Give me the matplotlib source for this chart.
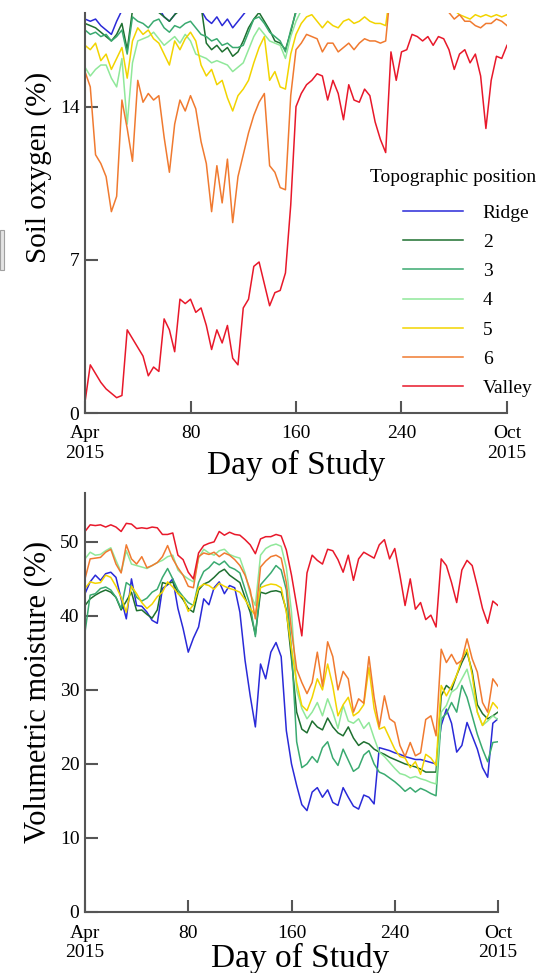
import numpy as np
import matplotlib
matplotlib.use("Agg")
import matplotlib.pyplot as plt
from matplotlib.patches import Rectangle

plt.rcParams['font.family'] = ['Liberation Serif', 'DejaVu Serif']

# day of study, every 4 days
days = np.arange(0, 321, 4)

names = ['Ridge', '2', '3', '4', '5', '6', 'Valley']
colors = ['#2a2ad8', '#1e7030', '#3aaa70', '#90e89a', '#f2d400', '#f07a30', '#e8182a']

# soil oxygen (%) - values above ~18.3 are cut off in the figure
o2_ridge = [18.0, 17.9, 18.0, 17.7, 17.5, 17.3, 17.9, 18.4, 18.5, 18.8, 18.9, 18.7, 18.8, 18.6, 18.5,
            18.1, 17.9, 18.2, 18.6, 18.5, 18.7, 18.6, 18.4, 18.0, 17.8, 18.1, 17.7, 18.0, 17.6, 17.9,
            18.2, 18.5, 18.8, 19.0, 18.9, 18.7, 18.8, 18.9, 18.8, 19.0, 19.2, 19.3, 19.3, 19.2, 19.3,
            19.2, 19.3, 19.2, 19.3, 19.2, 19.3, 19.3, 19.2, 19.3, 19.2, 19.2, 19.3, 19.3, 19.5, 19.5,
            19.5, 19.6, 19.5, 19.5, 19.4, 19.5, 19.4, 19.5, 19.4, 19.3, 19.2, 19.2, 19.3, 19.2, 19.1,
            19.2, 19.0, 19.1, 19.2, 19.1, 19.2]
o2_2 = [17.8, 17.7, 17.6, 17.4, 17.2, 17.0, 17.3, 17.8, 16.6, 18.4, 18.6, 18.5, 18.6, 18.4, 18.3,
        18.1, 17.9, 18.2, 18.4, 18.5, 18.6, 18.5, 18.6, 16.9, 16.6, 16.8, 16.5, 16.7, 16.3, 16.5,
        17.0, 17.6, 18.0, 18.3, 17.9, 17.5, 17.0, 16.9, 16.6, 17.4, 18.4, 19.0, 19.1, 19.0, 19.1,
        19.0, 19.1, 19.0, 19.1, 19.0, 19.1, 19.1, 19.0, 19.1, 19.0, 19.0, 19.1, 19.1, 19.4, 19.4,
        19.4, 19.5, 19.4, 19.4, 19.3, 19.4, 19.3, 19.4, 19.3, 19.2, 19.0, 19.0, 18.9, 19.0, 18.9,
        19.0, 18.8, 18.9, 19.0, 18.9, 19.0]
o2_3 = [17.5, 17.3, 17.4, 17.2, 17.3, 17.0, 17.2, 17.5, 16.4, 18.1, 17.9, 17.8, 17.6, 17.9, 18.0,
        17.6, 17.4, 17.7, 17.6, 17.8, 17.9, 17.6, 17.3, 17.2, 17.0, 17.1, 16.8, 16.9, 16.7, 16.7,
        16.8, 17.4, 18.0, 18.1, 17.8, 17.4, 17.2, 17.0, 16.5, 17.5, 18.3, 18.8, 18.9, 18.8, 18.9,
        18.8, 18.9, 18.8, 18.9, 18.8, 18.9, 18.9, 18.8, 18.9, 18.8, 18.8, 18.9, 18.9, 19.2, 19.2,
        19.2, 19.3, 19.2, 19.2, 19.1, 19.2, 19.1, 19.2, 19.1, 19.0, 18.8, 18.7, 18.6, 18.7, 18.6,
        18.7, 18.6, 18.7, 18.8, 18.7, 18.8]
o2_4 = [15.8, 15.4, 15.7, 15.9, 15.9, 15.3, 14.9, 16.2, 13.2, 16.0, 17.0, 17.1, 17.2, 17.4, 17.1,
        16.8, 17.0, 17.2, 16.9, 17.3, 17.0, 16.4, 16.3, 16.2, 16.0, 16.1, 16.0, 15.9, 15.6, 15.8,
        16.0, 16.6, 17.2, 17.6, 17.3, 17.0, 16.9, 16.8, 16.2, 17.2, 17.9, 18.4, 18.8, 18.7, 18.8,
        18.7, 18.8, 18.7, 18.8, 18.7, 18.8, 18.8, 18.7, 18.8, 18.7, 18.7, 18.8, 18.8, 19.1, 19.1,
        19.1, 19.2, 19.1, 19.1, 19.0, 19.1, 19.0, 19.1, 19.0, 18.9, 18.7, 18.6, 18.5, 18.6, 18.5,
        18.6, 18.5, 18.6, 18.7, 18.6, 18.7]
o2_5 = [16.8, 16.6, 16.9, 16.1, 16.4, 15.7, 16.2, 16.7, 15.3, 17.0, 17.6, 17.3, 17.5, 17.1, 16.9,
        16.4, 15.9, 17.0, 16.6, 17.1, 17.4, 17.0, 15.9, 15.4, 15.7, 15.0, 15.2, 14.4, 13.8, 14.5,
        14.8, 15.2, 16.0, 16.7, 17.2, 15.2, 15.6, 14.9, 14.8, 16.4, 17.3, 17.8, 18.1, 18.2, 17.9,
        17.6, 17.9, 17.7, 17.6, 17.9, 18.0, 17.8, 17.9, 18.1, 17.9, 17.8, 17.8, 17.7, 19.5, 19.5,
        19.4, 19.5, 19.4, 19.4, 19.3, 19.2, 19.1, 19.0, 18.8, 18.5, 18.4, 18.2, 18.1, 18.0, 18.2,
        18.1, 18.2, 18.1, 18.2, 18.1, 18.2]
o2_6 = [15.6, 14.9, 11.8, 11.4, 10.8, 9.2, 9.9, 14.3, 13.0, 11.5, 15.2, 14.2, 14.6, 14.3, 14.5,
        12.6, 11.0, 13.2, 14.3, 13.8, 14.5, 13.9, 12.4, 11.4, 9.2, 11.3, 9.6, 11.6, 8.7, 10.8,
        11.8, 12.8, 13.6, 14.2, 14.6, 11.3, 11.0, 10.3, 10.2, 14.5, 16.6, 16.9, 17.3, 17.2, 17.1,
        16.5, 16.9, 16.9, 16.5, 16.7, 16.9, 16.6, 16.9, 17.1, 17.0, 17.0, 16.9, 17.0, 19.5, 19.5,
        19.4, 19.4, 19.3, 19.2, 19.1, 19.0, 18.8, 18.6, 18.4, 18.3, 18.0, 18.2, 17.9, 17.9, 17.7,
        17.6, 17.8, 17.8, 18.0, 17.9, 17.7]
o2_valley = [0.5, 2.2, 1.8, 1.4, 1.1, 0.9, 0.7, 0.8, 3.8, 3.4, 3.0, 2.6, 1.7, 2.1, 1.9,
             4.3, 3.8, 2.8, 5.2, 5.0, 5.2, 4.6, 4.8, 4.0, 2.9, 3.8, 3.2, 4.0, 2.5, 2.2,
             4.8, 5.2, 6.7, 6.9, 5.9, 4.9, 5.5, 5.6, 6.4, 9.5, 14.0, 14.6, 15.0, 15.2, 15.5,
             15.4, 14.3, 15.2, 14.6, 13.4, 15.0, 14.3, 14.2, 14.8, 14.5, 13.3, 12.5, 11.9, 16.5, 15.2,
             16.5, 16.6, 17.3, 17.2, 17.0, 17.2, 16.8, 17.2, 17.1, 16.6, 15.7, 16.4, 16.6, 16.0, 16.4,
             15.4, 13.0, 15.2, 16.3, 16.2, 16.8]

# volumetric moisture (%)
vm_ridge = [43.0, 44.6, 45.5, 44.8, 45.7, 45.9, 45.2, 42.3, 39.6, 45.0, 41.4, 41.3, 40.5, 39.4, 39.0,
            43.7, 44.2, 45.0, 41.0, 38.3, 35.1, 37.0, 38.5, 42.3, 41.5, 43.8, 44.6, 43.0, 44.1, 43.8,
            40.5, 34.0, 29.2, 25.0, 33.5, 31.5, 35.1, 36.4, 34.5, 24.5, 20.0, 17.1, 14.5, 13.7, 16.2,
            16.8, 15.5, 16.5, 14.8, 14.4, 16.8, 15.5, 14.3, 13.9, 15.8, 15.5, 14.6, 22.2, 22.0, 21.8,
            21.5, 21.3, 21.0, 20.8, 20.6, 20.6, 20.4, 20.2, 20.0, 25.2, 27.4, 25.5, 21.6, 22.5, 25.6,
            23.8, 22.0, 19.5, 18.2, 25.5, 26.1]
vm_2 = [41.4, 42.3, 42.8, 43.2, 43.5, 43.2, 42.5, 40.8, 42.0, 43.2, 40.7, 40.8, 40.2, 39.7, 40.8,
        44.5, 44.3, 44.6, 43.1, 42.2, 41.0, 40.5, 43.5, 44.3, 44.6, 45.2, 45.9, 46.3, 45.5, 45.0,
        44.5, 42.5, 40.5, 37.5, 43.2, 43.0, 43.3, 43.4, 43.2, 40.8, 34.2, 27.0, 24.7, 24.2, 25.8,
        25.0, 24.6, 26.2, 25.0, 24.2, 23.8, 25.0, 23.5, 22.5, 23.0, 22.7, 22.0, 21.6, 21.3, 20.9,
        20.6, 20.3, 20.0, 19.8, 19.6, 19.3, 18.9, 18.9, 18.9, 29.2, 30.6, 30.0, 32.0, 33.7, 35.1,
        32.5, 28.0, 26.8, 26.1, 26.5, 27.0]
vm_3 = [37.8, 42.8, 43.0, 43.7, 43.9, 43.5, 42.5, 41.0, 44.5, 44.0, 42.5, 42.0, 42.4, 43.2, 43.6,
        45.2, 46.4, 45.0, 43.5, 42.6, 41.8, 41.4, 44.5, 46.0, 46.5, 47.3, 46.9, 47.4, 46.6, 46.3,
        45.8, 43.6, 41.4, 37.2, 44.2, 45.0, 45.8, 46.8, 46.2, 43.5, 35.5, 23.0, 19.5, 20.0, 21.0,
        20.2, 22.2, 23.0, 20.8, 19.8, 22.0, 20.5, 19.0, 19.5, 21.2, 21.8, 20.0, 18.9, 18.6, 18.1,
        17.6, 17.0, 16.3, 16.8, 16.2, 16.7, 16.4, 16.0, 15.7, 26.1, 26.8, 28.3, 27.0, 30.6, 29.0,
        26.5, 24.0, 22.0, 20.3, 22.9, 23.0]
vm_4 = [47.7, 48.6, 48.2, 48.3, 48.8, 49.2, 47.5, 45.9, 48.8, 47.0, 46.8, 46.6, 46.4, 46.8, 47.2,
        47.5, 48.0, 48.2, 46.2, 45.5, 45.0, 44.6, 47.8, 49.0, 48.5, 48.2, 48.8, 49.0, 48.3, 48.0,
        47.8, 45.8, 43.0, 41.4, 48.2, 49.1, 49.5, 49.7, 49.4, 46.5, 40.5, 30.0, 27.5, 26.1, 27.0,
        28.3, 26.5, 28.8, 27.0, 24.8, 27.9, 25.8, 25.5, 26.1, 24.8, 25.6, 23.5, 21.6, 21.0, 20.2,
        19.4, 18.7, 18.5, 18.1, 18.3, 18.0, 17.8, 17.5, 17.3, 27.0, 27.9, 29.7, 30.2, 31.5, 32.8,
        30.0, 27.0, 25.2, 25.8, 26.5, 26.0]
vm_5 = [43.7, 44.6, 44.4, 44.5, 45.5, 45.2, 44.0, 42.5, 40.5, 44.0, 43.0, 41.8, 41.0, 41.6, 42.6,
        43.2, 44.6, 43.9, 43.0, 42.5, 40.6, 41.5, 43.8, 44.3, 44.1, 43.6, 44.4, 44.0, 43.7, 43.5,
        43.2, 42.2, 41.0, 40.1, 43.8, 44.1, 44.3, 44.2, 43.8, 40.5, 35.5, 31.0, 27.9, 27.2, 29.0,
        31.5, 30.0, 33.5, 30.5, 26.5, 28.0, 29.0, 26.5, 27.0, 28.0, 33.0, 27.5, 24.7, 25.0, 23.5,
        22.0, 21.0, 20.8, 19.5, 20.3, 18.6, 21.3, 20.8, 19.8, 30.6, 29.2, 30.5, 32.0, 34.2, 35.5,
        32.0, 27.0, 25.2, 26.5, 28.3, 27.5]
vm_6 = [45.0, 47.7, 47.8, 47.9, 48.6, 49.0, 47.0, 45.8, 49.6, 47.7, 47.0, 48.0, 46.5, 46.8, 47.2,
        48.0, 49.5, 47.7, 46.5, 45.5, 44.0, 43.8, 48.0, 48.5, 48.3, 48.6, 48.0, 48.5, 48.2, 47.6,
        46.8, 45.5, 43.5, 39.6, 46.6, 47.4, 48.0, 48.2, 47.8, 44.5, 38.0, 32.8, 31.0, 29.5, 31.0,
        35.1, 30.5, 36.5, 34.5, 30.0, 32.5, 31.5, 27.0, 28.8, 28.2, 34.5, 29.0, 25.0, 29.2, 26.1,
        25.6, 22.5, 21.0, 22.9, 21.1, 21.5, 26.0, 26.5, 23.8, 35.5, 33.7, 34.8, 33.5, 34.0, 36.9,
        34.2, 32.4, 28.3, 27.0, 31.5, 30.5]
vm_valley = [51.4, 52.3, 52.2, 52.3, 52.0, 52.3, 52.0, 51.4, 52.5, 52.4, 51.8, 51.9, 51.8, 52.0, 51.9,
             51.0, 51.0, 51.2, 48.2, 47.6, 45.9, 45.0, 48.5, 49.5, 49.8, 50.0, 51.4, 50.9, 51.3, 51.0,
             50.9, 50.3, 49.6, 48.4, 50.4, 50.7, 50.7, 51.0, 50.8, 48.9, 45.5, 41.4, 37.3, 45.8, 48.2,
             47.5, 47.0, 49.0, 48.8, 47.6, 45.9, 48.2, 44.8, 47.7, 48.6, 48.2, 47.8, 49.6, 50.3, 47.7,
             49.1, 45.5, 41.4, 45.0, 40.9, 41.8, 39.5, 40.1, 38.5, 47.7, 46.8, 44.5, 41.8, 46.2, 47.5,
             46.8, 44.0, 41.0, 39.0, 42.0, 41.4]

oxygen = [o2_ridge, o2_2, o2_3, o2_4, o2_5, o2_6, o2_valley]
moisture = [vm_ridge, vm_2, vm_3, vm_4, vm_5, vm_6, vm_valley]

xticks = [0, 80, 160, 240, 320]
xlabels = ['Apr\n2015', '80', '160', '240', 'Oct\n2015']

W, H = 554, 973
fig = plt.figure(figsize=(W / 100, H / 100), dpi=100)

ax1 = fig.add_axes([85 / W, 1 - 413 / H, (507 - 85) / W, (413 - 12.5) / H])
ax2 = fig.add_axes([85 / W, 1 - 912 / H, (498 - 85) / W, (912 - 493) / H])


def style(ax):
    for s in ['top', 'right']:
        ax.spines[s].set_visible(False)
    for s in ['left', 'bottom']:
        ax.spines[s].set_color('#555555')
        ax.spines[s].set_linewidth(1.5)
    ax.tick_params(direction='in', length=9, width=1.5, color='#555555',
                   labelsize=14, top=False, right=False)
    ax.tick_params(axis='x', pad=9)
    ax.tick_params(axis='y', pad=4)
    ax.set_xticks(xticks)
    ax.set_xticklabels(xlabels)
    ax.set_xlim(0, 320)


lines = []
for vals, name, col in zip(oxygen, names, colors):
    ln, = ax1.plot(days, vals, color=col, lw=1.1, label=name)
    lines.append(ln)
ax1.set_ylim(0, 18.3)
ax1.set_yticks([0, 7, 14])
style(ax1)
ax1.set_ylabel('Soil oxygen (%)', fontsize=21)
ax1.yaxis.set_label_coords(-0.078, 0.612)
ax1.set_xlabel('Day of Study', fontsize=24)
ax1.xaxis.set_label_coords(0.5, -0.093)

for vals, name, col in zip(moisture, names, colors):
    ax2.plot(days, vals, color=col, lw=1.1)
ax2.set_ylim(0, 56.6)
ax2.set_yticks([0, 10, 20, 30, 40, 50])
style(ax2)
ax2.set_ylabel('Volumetric moisture (%)', fontsize=22)
ax2.yaxis.set_label_coords(-0.08, 0.526)
ax2.set_xlabel('Day of Study', fontsize=24)
ax2.xaxis.set_label_coords(0.52, -0.074)

leg = ax1.legend(handles=lines, loc='upper left', frameon=False, fontsize=14,
                 bbox_to_anchor=(403 / W, 1 - 204 / H), bbox_transform=fig.transFigure,
                 handlelength=3.1, handletextpad=1.0, labelspacing=0.6,
                 borderpad=0, borderaxespad=0)
fig.text(370 / W, 1 - 178 / H, 'Topographic position', fontsize=14, va='center', ha='left')

# small grey mark at the left edge
fig.patches.append(Rectangle((0, 1 - 270 / H), 4 / W, 40 / H, transform=fig.transFigure,
                             facecolor='#e4e4e4', edgecolor='#a0a0a0', lw=0.8))

fig.savefig('out.png', dpi=100)
